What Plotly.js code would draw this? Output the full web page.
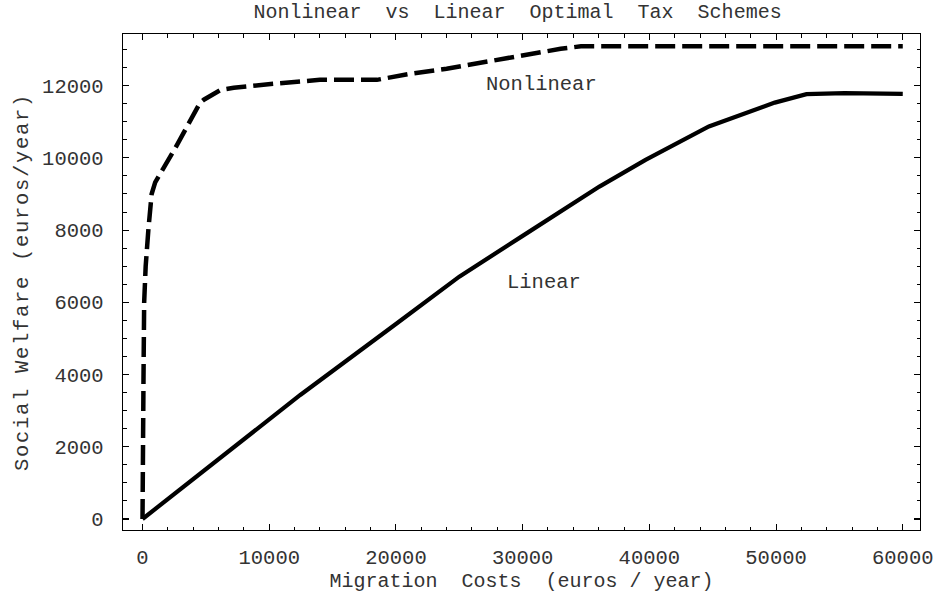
<!DOCTYPE html>
<html>
<head>
<meta charset="utf-8">
<script src="https://cdn.plot.ly/plotly-3.0.1.min.js"></script>
<style>
html, body { margin: 0; padding: 0; background: #fff; }
#chart { width: 936px; height: 598px; }
.ytitle { letter-spacing: 1.7px; }
</style>
</head>
<body>
<div id="chart"></div>
<script>
// Migration costs (euros/year) and social welfare (euros/year)
const nonlinearX = [0, 10, 80, 130, 250, 460, 720, 1000, 2600, 4530, 4840, 6150, 7200, 10300, 14000, 18500, 21000, 24000, 29000, 33000, 34600, 40000, 50000, 60000];
const nonlinearY = [0, 2000, 4000, 6000, 7000, 8000, 9000, 9320, 10280, 11520, 11610, 11880, 11940, 12050, 12160, 12160, 12320, 12470, 12790, 13020, 13090, 13090, 13090, 13090];

const linearX = [0, 12450, 20000, 25000, 30000, 35000, 36060, 39700, 44700, 49900, 52400, 55400, 60000];
const linearY = [0, 3435, 5400, 6710, 7840, 8960, 9205, 9945, 10870, 11530, 11765, 11790, 11770];

const labelNames = ["Nonlinear", "Linear"];
const labelX = [31500, 31700];
const labelY = [12020, 6535];

const xTicks = [0, 10000, 20000, 30000, 40000, 50000, 60000];
const yTicks = [0, 2000, 4000, 6000, 8000, 10000, 12000];

const FONT = "'Liberation Mono', 'Courier New', monospace";
const TXT = "#333333";

const traces = [
  {
    x: nonlinearX, y: nonlinearY, type: "scatter", mode: "lines", name: "Nonlinear",
    line: { color: "#000", width: 4.5, dash: "20px,7px" }
  },
  {
    x: linearX, y: linearY, type: "scatter", mode: "lines", name: "Linear",
    line: { color: "#000", width: 4.2 }
  }
];

const axisCommon = {
  showgrid: false, zeroline: false, showline: true, linecolor: "#000", linewidth: 1.3,
  mirror: "allticks", ticks: "inside", ticklen: 6, tickwidth: 1.1, tickcolor: "#000",
  tickfont: { family: FONT, size: 20.5, color: TXT }
};

const layout = {
  width: 936, height: 598,
  paper_bgcolor: "#fff", plot_bgcolor: "#fff",
  margin: { l: 123, r: 15.5, t: 34, b: 68 },
  showlegend: false,
  title: {
    text: "Nonlinear  vs  Linear  Optimal  Tax  Schemes",
    font: { family: FONT, size: 20, color: TXT },
    x: 0.553, xanchor: "center", y: 0.994, yanchor: "top"
  },
  xaxis: Object.assign({}, axisCommon, {
    range: [-1540, 61360],
    tickvals: xTicks, ticktext: xTicks.map(String),
    ticklabelstandoff: 8,
    minor: { dtick: 2000, tick0: 0, ticks: "inside", ticklen: 3.5, tickwidth: 1, tickcolor: "#000" },
    title: { text: "Migration  Costs  (euros / year)", font: { family: FONT, size: 20, color: TXT }, standoff: 4 }
  }),
  yaxis: Object.assign({}, axisCommon, {
    range: [-305, 13430],
    tickvals: yTicks, ticktext: yTicks.map(String),
    ticklabelstandoff: 14,
    minor: { dtick: 500, tick0: 0, ticks: "inside", ticklen: 3.5, tickwidth: 1, tickcolor: "#000" },
    title: { text: "Social Welfare (euros/year)", font: { family: FONT, size: 20.5, color: TXT }, standoff: 8 }
  }),
  annotations: labelNames.map((t, i) => ({
    x: labelX[i], y: labelY[i], xref: "x", yref: "y", text: t, showarrow: false,
    font: { family: FONT, size: 20.5, color: TXT }, xanchor: "center", yanchor: "middle"
  }))
};

Plotly.newPlot("chart", traces, layout, { displayModeBar: false, staticPlot: true });
</script>
</body>
</html>
